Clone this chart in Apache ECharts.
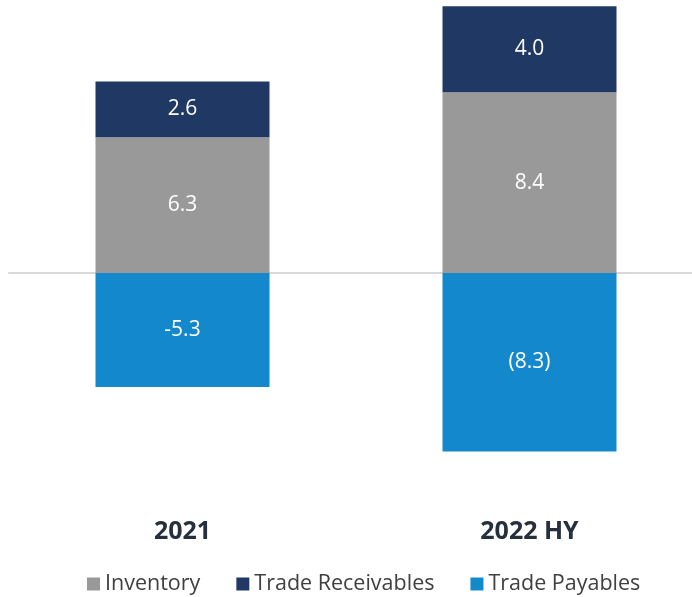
<!DOCTYPE html>
<html>
<head>
<meta charset="utf-8">
<script src="https://cdn.jsdelivr.net/npm/echarts@6/dist/echarts.min.js"></script>
<style>
  html, body { margin: 0; padding: 0; background: #fff; }
  #chart { width: 692px; height: 597px; }
</style>
</head>
<body>
<div id="chart"></div>
<script>
// Données
const categories = ['2021', '2022 HY'];
const inventory = [6.3, 8.4];
const receivables = [2.6, 4.0];
const payables = [-5.3, -8.3];
const payablesLabels = ['-5.3', '(8.3)'];

var chartDom = document.getElementById('chart');
var myChart = echarts.init(chartDom);

const labelStyle = {
    show: true,
    position: 'inside',
    color: '#ffffff',
    fontSize: 21,
    fontFamily: 'Open Sans'
};

var option = {
    animation: false,
    textStyle: { fontFamily: 'Open Sans' },
    grid: { left: 9, width: 694, top: 4, height: 484, outerBoundsMode: 'none', containLabel: false },
    legend: {
        bottom: -3,
        left: 82,
        itemWidth: 13,
        itemHeight: 13,
        itemGap: 36,
        icon: 'rect',
        textStyle: { fontSize: 21.5, color: '#404040', fontFamily: 'Open Sans' },
        data: ['Inventory', 'Trade Receivables', 'Trade Payables']
    },
    xAxis: [
        {
            type: 'category',
            data: categories,
            axisLine: { onZero: true, lineStyle: { color: '#d9d9d9', width: 2 } },
            axisTick: { show: false },
            axisLabel: { show: false }
        },
        {
            type: 'category',
            data: categories,
            position: 'bottom',
            axisLine: { show: false, onZero: false },
            axisTick: { show: false },
            axisLabel: {
                margin: 31,
                fontSize: 25,
                fontWeight: 'bold',
                color: '#262f3d',
                fontFamily: 'Open Sans'
            }
        }
    ],
    yAxis: {
        type: 'value',
        min: -10,
        max: 12.5,
        show: false,
        splitLine: { show: false }
    },
    series: [
        {
            name: 'Inventory',
            type: 'bar',
            stack: 'pos',
            barWidth: 174,
            data: inventory,
            itemStyle: { color: '#999999' },
            label: labelStyle
        },
        {
            name: 'Trade Receivables',
            type: 'bar',
            stack: 'pos',
            barWidth: 174,
            data: receivables,
            itemStyle: { color: '#1f3864' },
            label: Object.assign({}, labelStyle, {
                formatter: p => p.value.toFixed(1)
            })
        },
        {
            name: 'Trade Payables',
            type: 'bar',
            stack: 'neg',
            barWidth: 174,
            barGap: '-100%',
            data: payables,
            itemStyle: { color: '#1488cc' },
            label: Object.assign({}, labelStyle, {
                formatter: p => payablesLabels[p.dataIndex]
            })
        }
    ]
};

myChart.setOption(option);
window.addEventListener('resize', () => myChart.resize());
</script>
</body>
</html>
